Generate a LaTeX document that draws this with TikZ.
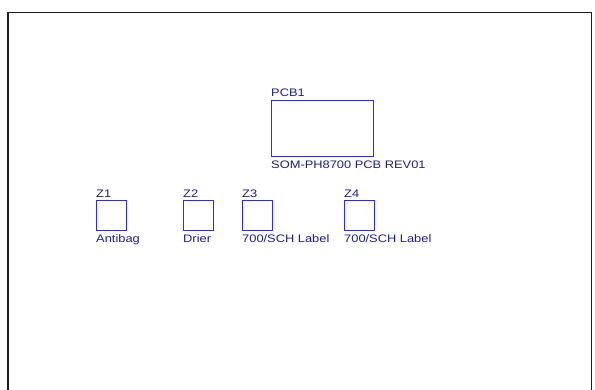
\documentclass[tikz,border=0pt]{standalone}
\usepackage{fontspec}
\newfontfamily\lblfont[FakeStretch=1.18]{Liberation Sans}
\definecolor{boxblue}{RGB}{40,40,255}
\definecolor{txtblue}{RGB}{30,30,130}
\definecolor{framegray}{RGB}{30,30,30}
\begin{document}
\begin{tikzpicture}[x=1pt,y=-1pt,
  part/.style={draw=boxblue,line width=1.2pt,inner sep=0pt,minimum width=#1},
  lbl/.style={anchor=base west,inner sep=0pt,text=txtblue,font=\lblfont\fontsize{10.9}{12}\selectfont}]
\useasboundingbox (0,0) rectangle (595,390);
\fill[white] (0,0) rectangle (595,390);
\draw[framegray,line width=1.5pt] (7.8,395) -- (7.8,12.3) -- (591.5,12.3) -- (591.5,395);
% PCB1
\node[part=102pt,minimum height=56pt,anchor=north west] (pcb) at (271,100) {};
\node[lbl] (pcbref) at ([yshift=3.5pt]pcb.north west) {PCB1};
\node[lbl] (pcbval) at ([yshift=-11.5pt]pcb.south west) {SOM-PH8700 PCB REV01};
% Z parts
\foreach \n/\x/\v in {1/96/Antibag,2/183/Drier,3/242/700\slash SCH Label,4/344/700\slash SCH Label}{
  \node[part=30pt,minimum height=30pt,anchor=north west] (z\n) at (\x,200) {};
  \node[lbl] (z\n ref) at ([yshift=2.5pt]z\n.north west) {Z\n};
  \node[lbl] (z\n val) at ([yshift=-11pt]z\n.south west) {\v};
}
\end{tikzpicture}
\end{document}
